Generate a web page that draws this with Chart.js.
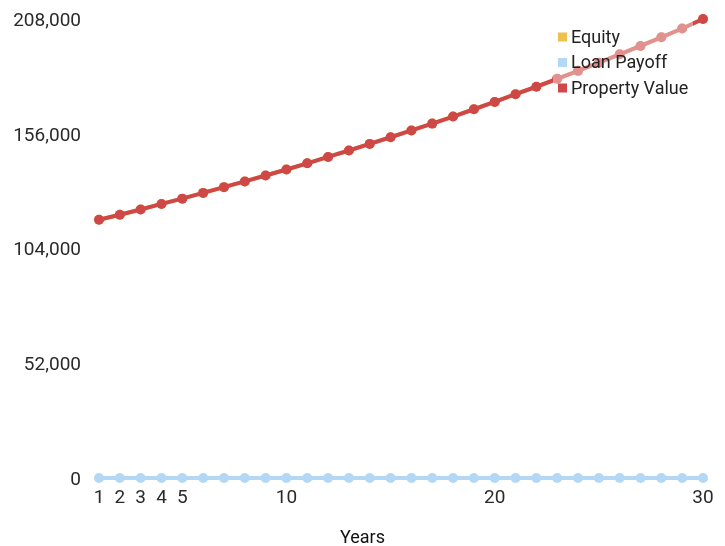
<!DOCTYPE html>
<html>
<head>
<meta charset="utf-8">
<script src="https://cdn.jsdelivr.net/npm/chart.js@4/dist/chart.umd.min.js"></script>
<style>
  html, body { margin: 0; padding: 0; background: #fff; }
  #wrap { width: 725px; height: 546px; position: relative; }
</style>
</head>
<body>
<div id="wrap"><canvas id="c" width="725" height="546"></canvas></div>
<script>
// Years of the holding period
const years = [1,2,3,4,5,6,7,8,9,10,11,12,13,14,15,16,17,18,19,20,21,22,23,24,25,26,27,28,29,30];

// Property value per year
const propertyValue = [117000,119300,121700,124200,126600,129200,131800,134400,137100,139800,
                       142600,145500,148400,151400,154400,157500,160600,163800,167100,170400,
                       173900,177300,180900,184500,188200,192000,195800,199700,203700,208000];

// Loan payoff per year (no loan)
const loanPayoff = [0,0,0,0,0,0,0,0,0,0,0,0,0,0,0,0,0,0,0,0,0,0,0,0,0,0,0,0,0,0];

// Equity per year (value minus loan)
const equity = [117000,119300,121700,124200,126600,129200,131800,134400,137100,139800,
                142600,145500,148400,151400,154400,157500,160600,163800,167100,170400,
                173900,177300,180900,184500,188200,192000,195800,199700,203700,208000];

// Axis ticks
const xTickValues = [1,2,3,4,5,10,20,30];
const yTickValues = [0,52000,104000,156000,208000];
const xAxisTitle = 'Years';

const seriesNames = ['Equity', 'Loan Payoff', 'Property Value'];
const seriesColors = ['#eec04c', '#b3d8f6', '#cf4848'];

const toPoints = arr => years.map((y, i) => ({ x: y, y: arr[i] }));

const FONT = 'Roboto, "Noto Sans", sans-serif';

// Legend drawn inside the plot, over the lines, on a translucent panel;
// the x-axis title is centred on the whole canvas below the tick labels
const overlayLegend = {
  id: 'overlayLegend',
  afterDatasetsDraw(chart) {
    const ctx = chart.ctx;
    ctx.save();
    ctx.fillStyle = 'rgba(255,255,255,0.4)';
    ctx.fillRect(553, 22, 140, 78);
    ctx.font = '18px ' + FONT;
    ctx.textBaseline = 'middle';
    ctx.textAlign = 'left';
    chart.data.datasets.forEach((ds, i) => {
      const cy = 37 + i * 25.5;
      ctx.fillStyle = ds.legendColor;
      ctx.fillRect(558, cy - 4.5, 9, 9);
      ctx.fillStyle = '#222';
      ctx.fillText(ds.label, 571, cy + 1);
    });
    ctx.fillStyle = '#111';
    ctx.textAlign = 'center';
    ctx.fillText(xAxisTitle, chart.width / 2, 538);
    ctx.restore();
  }
};

new Chart(document.getElementById('c'), {
  type: 'line',
  data: {
    datasets: [
      { label: seriesNames[0], data: toPoints(equity), borderColor: seriesColors[0], backgroundColor: seriesColors[0],
        legendColor: seriesColors[0], order: 3 },
      { label: seriesNames[1], data: toPoints(loanPayoff), borderColor: seriesColors[1], backgroundColor: seriesColors[1],
        legendColor: seriesColors[1], order: 2 },
      { label: seriesNames[2], data: toPoints(propertyValue), borderColor: seriesColors[2], backgroundColor: seriesColors[2],
        legendColor: seriesColors[2], order: 1 }
    ]
  },
  options: {
    responsive: false,
    animation: false,
    devicePixelRatio: 1,
    layout: { padding: { left: 0, right: 22, top: 19, bottom: 0 } },
    elements: {
      line: { borderWidth: 4, tension: 0 },
      point: { radius: 5, borderWidth: 0, hoverRadius: 5 }
    },
    datasets: { line: { clip: false } },
    plugins: {
      legend: { display: false },
      tooltip: { enabled: false },
      title: { display: false }
    },
    scales: {
      x: {
        type: 'linear',
        min: 1, max: 30,
        grid: { display: false, drawTicks: false },
        border: { display: false },
        ticks: { font: { family: FONT, size: 19 }, color: '#2a2a2a', padding: 9, maxRotation: 0, autoSkip: false },
        afterBuildTicks: axis => { axis.ticks = xTickValues.map(v => ({ value: v })); },
        afterFit: axis => { axis.height = 68; axis.paddingLeft = 0; axis.paddingRight = 0; }
      },
      y: {
        min: 0, max: 208000,
        grid: { display: false, drawTicks: false },
        border: { display: false },
        ticks: {
          font: { family: FONT, size: 19 }, color: '#2a2a2a', padding: 18, labelOffset: 2,
          callback: v => v.toLocaleString('en-US')
        },
        afterBuildTicks: axis => { axis.ticks = yTickValues.map(v => ({ value: v })); },
        afterFit: axis => { axis.width = 99; axis.paddingTop = 0; axis.paddingBottom = 0; }
      }
    }
  },
  plugins: [overlayLegend]
});
</script>
</body>
</html>
